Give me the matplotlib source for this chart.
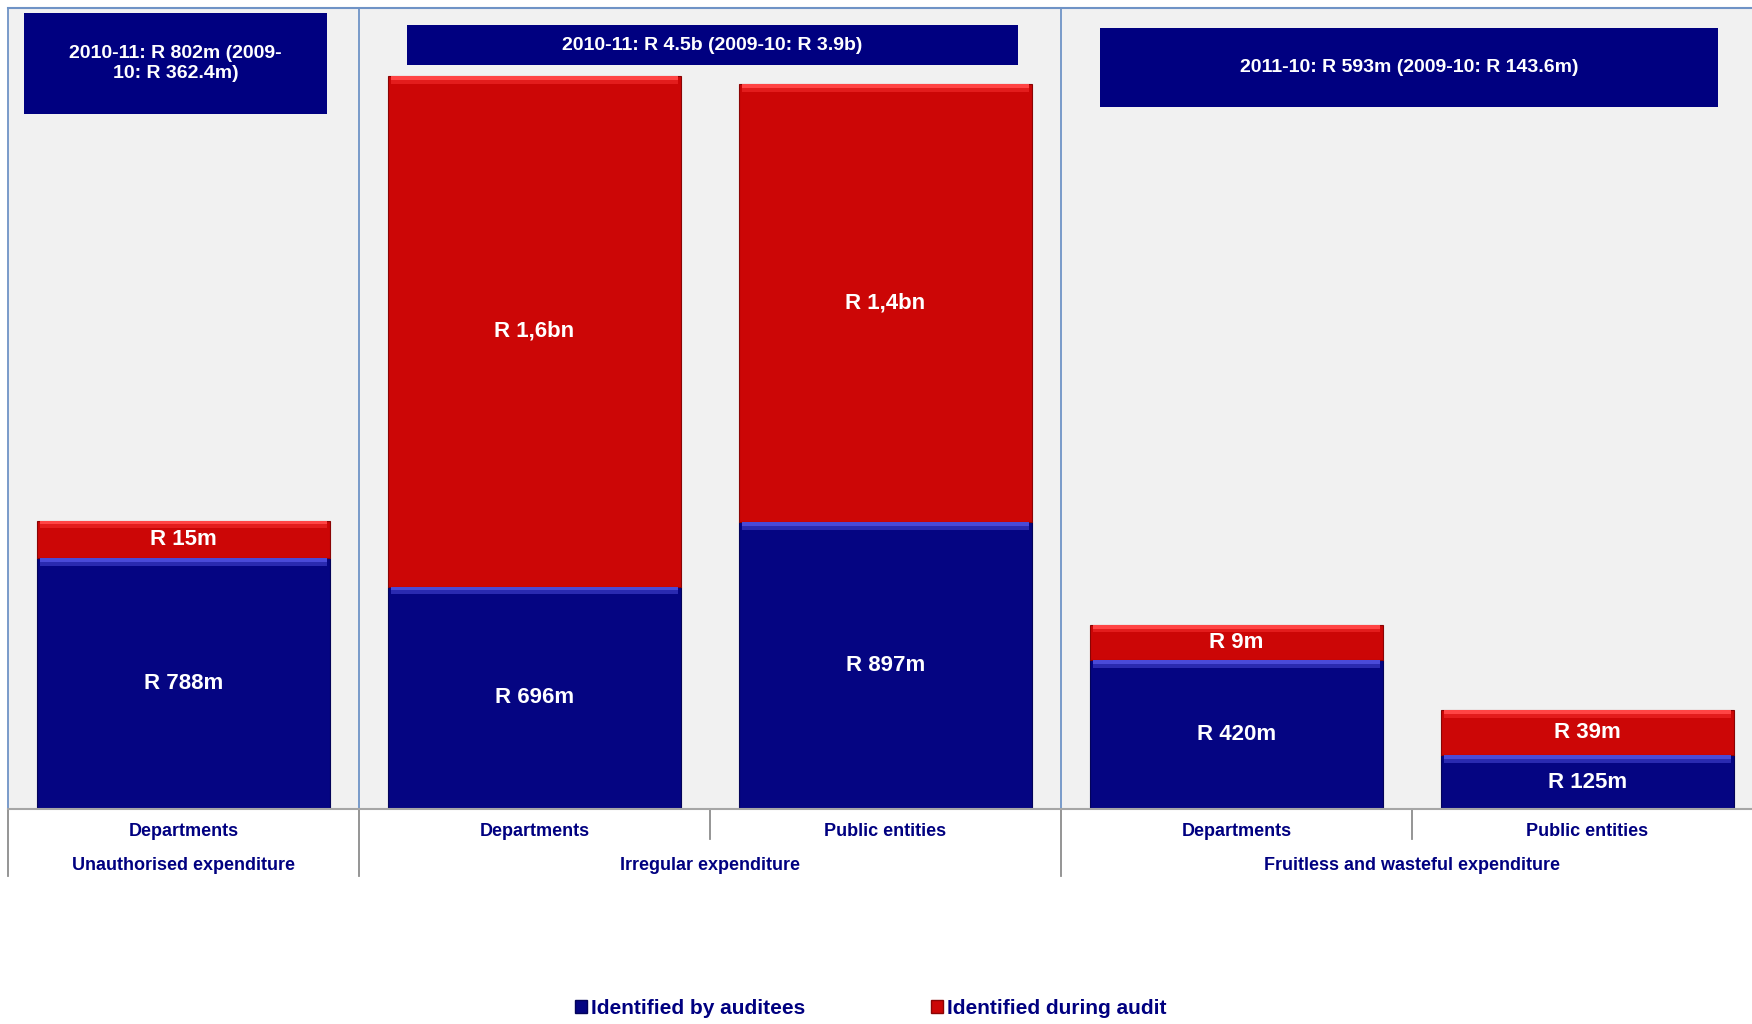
import matplotlib.pyplot as plt
from matplotlib.patches import Rectangle, Patch
from matplotlib import transforms

plt.rcParams['font.family'] = ['Liberation Sans', 'DejaVu Sans']

# data (bar heights as drawn, in the chart's visual units)
categories = ["Departments", "Departments", "Public entities", "Departments", "Public entities"]
groups = ["Unauthorised expenditure", "Irregular expenditure", "Fruitless and wasteful expenditure"]
group_span = [(0, 0), (1, 2), (3, 4)]
by_auditees = [782, 694, 896, 464, 168]
during_audit = [118, 1594, 1367, 111, 140]
auditees_labels = ["R 788m", "R 696m", "R 897m", "R 420m", "R 125m"]
audit_labels = ["R 15m", "R 1,6bn", "R 1,4bn", "R 9m", "R 39m"]
box_texts = ["2010-11: R 802m (2009-\n10: R 362.4m)",
             "2010-11: R 4.5b (2009-10: R 3.9b)",
             "2011-10: R 593m (2009-10: R 143.6m)"]

NAVY = "#000080"
BLUE = "#050582"
RED = "#cc0606"
BORDER = "#6f93c6"
GREY = "#8c8c8c"

W, H = 1752, 1024
fig = plt.figure(figsize=(W / 100, H / 100), dpi=100)
ax = fig.add_axes([8 / W, 1 - 809 / H, 1744 / W, 801 / H])
ax.set_facecolor("#f1f1f1")
ax.set_xlim(-0.5, -0.5 + 1744 / 351)
ax.set_ylim(0, 2500)
for s in ax.spines.values():
    s.set_visible(False)
ax.set_xticks([])
ax.set_yticks([])

x = list(range(len(categories)))
bw = 0.833
ax.bar(x, by_auditees, width=bw, color=BLUE, edgecolor="#03035a", linewidth=0.8, zorder=3)
ax.bar(x, during_audit, bottom=by_auditees, width=bw, color=RED, edgecolor="#8a0404",
       linewidth=0.8, zorder=3)
# bevel highlight on top of each segment (two soft bands)
tops_b = by_auditees
tops_r = [b + r for b, r in zip(by_auditees, during_audit)]
for hl, cb, cr in [(24, "#2a2ab0", "#e31c1c"), (12, "#4a4ad8", "#ff4444")]:
    ax.bar(x, [hl] * len(x), bottom=[t - hl for t in tops_b], width=bw * 0.985,
           color=cb, linewidth=0, zorder=4)
    ax.bar(x, [hl] * len(x), bottom=[t - hl for t in tops_r], width=bw * 0.985,
           color=cr, linewidth=0, zorder=4)

for i in x:
    ax.text(i, by_auditees[i] / 2, auditees_labels[i], ha="center", va="center",
            color="white", fontsize=16, fontweight="bold", zorder=5)
    ax.text(i, by_auditees[i] + during_audit[i] / 2, audit_labels[i], ha="center",
            va="center", color="white", fontsize=16, fontweight="bold", zorder=5)

tr = transforms.blended_transform_factory(ax.transData, ax.transAxes)
# borders
ax.plot([-0.5, 4.5 + 1], [1, 1], transform=tr, color=BORDER, lw=1.5, clip_on=False, zorder=6)
ax.plot([0, 1], [0, 0], transform=ax.transAxes, color="#a6a6a6", lw=1.5, clip_on=False, zorder=6)
for gx in [-0.5, 0.5, 2.5]:
    ax.plot([gx, gx], [0, 1], transform=tr, color=BORDER, lw=1.3, clip_on=False, zorder=2)
    ax.plot([gx, gx], [0, -0.084], transform=tr, color=GREY, lw=1.3, clip_on=False)
for sx in [1.5, 3.5]:
    ax.plot([sx, sx], [0, -0.037], transform=tr, color=GREY, lw=1.3, clip_on=False)

for i, c in enumerate(categories):
    ax.text(i, -0.0275, c, transform=tr, ha="center", va="center", color=NAVY,
            fontsize=13, fontweight="bold")
for g, (a, b) in zip(groups, group_span):
    ax.text((a + b) / 2, -0.07, g, transform=tr, ha="center", va="center", color=NAVY,
            fontsize=13, fontweight="bold")

# summary boxes (pixel positions in the figure)
boxes = [(24, 13, 327, 114), (407, 25, 1018, 65), (1100, 28, 1718, 107)]
for (x0, y0, x1, y1), t in zip(boxes, box_texts):
    fig.add_artist(Rectangle((x0 / W, 1 - y1 / H), (x1 - x0) / W, (y1 - y0) / H,
                             transform=fig.transFigure, facecolor=NAVY, edgecolor="none",
                             zorder=7))
    fig.text((x0 + x1) / 2 / W, 1 - (y0 + y1) / 2 / H, t, ha="center", va="center",
             color="white", fontsize=14, fontweight="bold", linespacing=1.2, zorder=8)

handles = [Patch(facecolor=BLUE, edgecolor="#03035a"), Patch(facecolor=RED, edgecolor="#8a0404")]
fig.legend(handles, ["Identified by auditees", "Identified during audit"],
           loc="lower center", bbox_to_anchor=(0.497, -0.012), ncol=2, frameon=False,
           prop={"size": 15, "weight": "bold"}, labelcolor=NAVY,
           handlelength=0.6, handleheight=0.6, handletextpad=0.2, columnspacing=6.0)

fig.savefig("out.png", dpi=100, facecolor="white")
